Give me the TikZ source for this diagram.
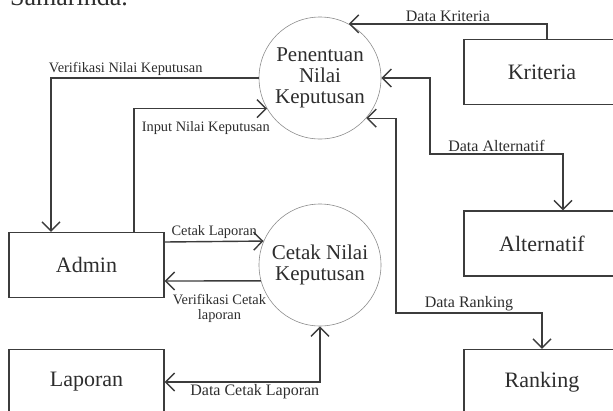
\documentclass[tikz,border=0pt]{standalone}
\usepackage{fontspec}
\setmainfont{Liberation Serif}
\usepackage{tikz}
\usetikzlibrary{arrows.meta}

\definecolor{textgray}{HTML}{2D2D2D}
\definecolor{linegray}{HTML}{3C3C3C}
\definecolor{circlegray}{HTML}{8C8C8C}

\begin{document}
\begin{tikzpicture}[x=1pt, y=-1pt, >={Straight Barb[length=9pt,width=18pt]},
    flow/.style={->, draw=linegray, line width=1.4pt},
    both flow/.style={<->, draw=linegray, line width=1.4pt},
    process/.style={circle, draw=circlegray, line width=0.6pt, minimum size=122pt, inner sep=0pt, align=center, text=textgray, font=\fontsize{21}{21}\selectfont},
    entity/.style={rectangle, draw=linegray, line width=1.4pt, minimum width=156pt, minimum height=65pt, text=textgray, font=\fontsize{22}{24}\selectfont},
    small label/.style={text=textgray, font=\fontsize{14.4}{15}\selectfont, inner sep=2pt},
    big label/.style={text=textgray, font=\fontsize{16}{17}\selectfont, inner sep=2pt}]

  \path[use as bounding box] (0,0) rectangle (613,410);
  \clip (0,0) rectangle (613,410);

  % Text cut off at the top
  \node[anchor=base west, inner sep=0pt, text=textgray, font=\fontsize{26}{28}\selectfont] (town) at (10,5) {Samarinda.};

  % Processes
  \node[process] (pnk) at (320,78) {Penentuan\\Nilai\\Keputusan};
  \node[process] (cnk) at (320,265) {Cetak Nilai\\Keputusan};

  % Entities and data stores
  \node[entity] (krit) at (542,72) {Kriteria};
  \node[entity] (alt) at (542,243.5) {Alternatif};
  \node[entity] (rank) at (542,382) {Ranking};
  \node[entity, minimum width=155pt] (admin) at (86.5,265) {Admin};
  \node[entity, minimum width=155pt] (lap) at (86.5,382) {Laporan};

  % Bend points
  \coordinate (altbend) at (430,154);
  \coordinate (rankbend) at (396,313);

  % Flows
  \draw[flow] ([xshift=5pt]krit.north) |- node[big label, above, pos=0.75] {Data Kriteria} (pnk.62);
  \draw[both flow] (pnk.east) -| (altbend) -| node[big label, above, pos=0.25] {Data Alternatif} ([xshift=21pt]alt.north);
  \draw[both flow] (pnk.-41) -| (rankbend) -| node[big label, above, inner sep=1pt, pos=0.25] {Data Ranking} (rank.north);
  \draw[flow] (pnk.west) -| node[small label, above, pos=0.32] {Verifikasi Nilai Keputusan} ([xshift=-35.5pt]admin.north);
  \draw[flow] ([xshift=47.5pt]admin.north) |- node[small label, below=10pt, pos=0.77] {Input Nilai Keputusan} (pnk.210);
  \draw[flow] ([yshift=23pt]admin.east) -- node[small label, above] {Cetak Laporan} (cnk.157.5);
  \draw[flow] (cnk.195.5) -- node[small label, below=11pt, pos=0.43, align=center] {Verifikasi Cetak\\laporan} ([yshift=-16pt]admin.east);
  \draw[both flow] (cnk.south) |- node[big label, below, pos=0.71] {Data Cetak Laporan} (lap.east);
\end{tikzpicture}
\end{document}
